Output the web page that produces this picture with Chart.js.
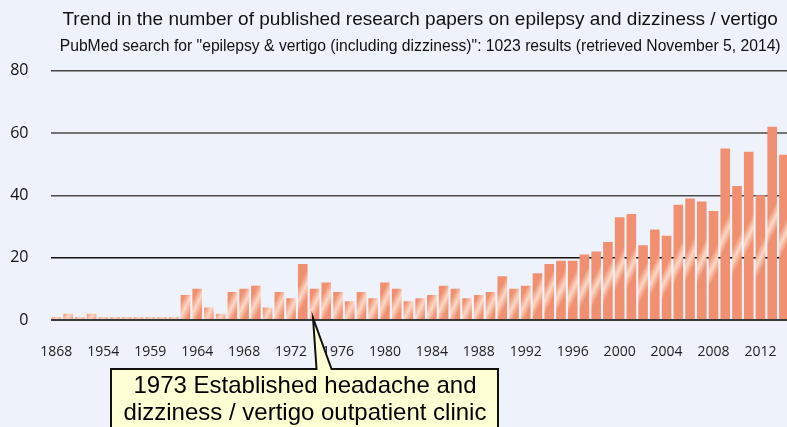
<!DOCTYPE html>
<html lang="en">
<head>
<meta charset="UTF-8">
<title>Epilepsy and dizziness / vertigo papers</title>
<script src="https://cdn.jsdelivr.net/npm/chart.js@4.4.1/dist/chart.umd.min.js"></script>
<style>
  html, body { margin: 0; padding: 0; background: #eef2fa; overflow: hidden; }
  /* a bit wider than the window: the last bar is cut off like in the source */
  .chart-wrap { position: relative; width: 800px; height: 427px; }
</style>
</head>
<body>
<div class="chart-wrap"><canvas id="papers-chart"></canvas></div>
<script>
// ---- Data ----
// only every 4th year is labelled; the unlabelled early years are unknown
const years = [
  '1868', '', '', '', '1954', '', '', '', '1959', '', '', '',
  '1964', '1965', '1966', '1967', '1968', '1969', '1970', '1971', '1972', '1973',
  '1974', '1975', '1976', '1977', '1978', '1979', '1980', '1981', '1982', '1983',
  '1984', '1985', '1986', '1987', '1988', '1989', '1990', '1991', '1992', '1993',
  '1994', '1995', '1996', '1997', '1998', '1999', '2000', '2001', '2002', '2003',
  '2004', '2005', '2006', '2007', '2008', '2009', '2010', '2011', '2012', '2013', '2014'
];
const paperCounts = [
  1, 2, 1, 2, 1, 1, 1, 1, 1, 1, 1, 8,
  10, 4, 2, 9, 10, 11, 4, 9, 7, 18,
  10, 12, 9, 6, 9, 7, 12, 10, 6, 7,
  8, 11, 10, 7, 8, 9, 14, 10, 11, 15,
  18, 19, 19, 21, 22, 25, 33, 34, 24, 29,
  27, 37, 39, 38, 35, 55, 43, 54, 40, 62, 53
];
const yTicks = [0, 20, 40, 60, 80];
const tickEvery = 4;

const titleText = 'Trend in the number of published research papers on epilepsy and dizziness / vertigo';
const subtitleText = 'PubMed search for "epilepsy & vertigo (including dizziness)": 1023 results (retrieved November 5, 2014)';
const noteIndex = 22;
const noteLines = ['1973 Established headache and', 'dizziness / vertigo outpatient clinic'];

// ---- Styles ----
const barBase = '#f09070';
const barGloss = '#fcd8c6';
const gridStyle = {
  0:  { color: '#3a3a3a', width: 2 },
  20: { color: '#111111', width: 1.5 },
  40: { color: '#4a4a4a', width: 1.5 },
  60: { color: '#747474', width: 2 },
  80: { color: '#444444', width: 1.5 }
};

Chart.defaults.font.family = '"Open Sans", sans-serif';

// soft diagonal streak across the middle of every bar
function barFill(c) {
  const { x, y } = c.chart.scales;
  if (!x || !y || c.type !== 'data') return barBase;
  const cx = x.getPixelForValue(c.dataIndex);
  const cy = (y.getPixelForValue(c.raw) + y.getPixelForValue(0)) / 2;
  if (!isFinite(cx) || !isFinite(cy)) return barBase;
  const g = c.chart.ctx.createLinearGradient(cx - 11, cy - 5.5, cx + 11, cy + 5.5);
  g.addColorStop(0, barBase);
  g.addColorStop(0.25, barBase);
  g.addColorStop(0.5, barGloss);
  g.addColorStop(0.75, barBase);
  g.addColorStop(1, barBase);
  return g;
}

// ---- Callout box under the axis ----
const calloutPlugin = {
  id: 'callout',
  afterDraw(chart) {
    const { ctx, scales: { x, y } } = chart;
    const tipX = x.getPixelForValue(noteIndex) - 1.5;
    const tipY = y.getPixelForValue(0) - 2;
    const box = { left: 111, top: 369, right: 498, bottom: 445 };
    ctx.save();
    ctx.beginPath();
    ctx.moveTo(box.left, box.top);
    ctx.lineTo(tipX + 3.5, box.top);
    ctx.lineTo(tipX, tipY);
    ctx.lineTo(tipX + 18.5, box.top);
    ctx.lineTo(box.right, box.top);
    ctx.lineTo(box.right, box.bottom);
    ctx.lineTo(box.left, box.bottom);
    ctx.closePath();
    ctx.fillStyle = '#ffffd4';
    ctx.fill();
    ctx.lineWidth = 2;
    ctx.strokeStyle = '#111';
    ctx.stroke();
    ctx.fillStyle = '#000';
    ctx.font = '24px "Liberation Sans", Arial, sans-serif';
    ctx.textAlign = 'center';
    ctx.textBaseline = 'alphabetic';
    noteLines.forEach((line, i) => ctx.fillText(line, 305, 393 + i * 27));
    ctx.restore();
  }
};

// ---- Chart ----
new Chart(document.getElementById('papers-chart'), {
  type: 'bar',
  data: {
    labels: years,
    datasets: [{
      label: 'Papers',
      data: paperCounts,
      backgroundColor: barFill,
      borderWidth: 0,
      barPercentage: 0.82,
      categoryPercentage: 1
    }]
  },
  options: {
    responsive: true,
    maintainAspectRatio: false,
    animation: false,
    layout: { padding: { left: 0, right: 9, top: 0, bottom: 0 } },
    scales: {
      x: {
        grid: { display: false },
        border: { display: false },
        afterFit: (axis) => { axis.height = 107; },
        ticks: {
          autoSkip: false,
          maxRotation: 0,
          padding: 16,
          color: '#222',
          font: { size: 14 },
          callback(value, index) {
            return index % tickEvery === 0 ? this.getLabelForValue(value) : '';
          }
        }
      },
      y: {
        min: yTicks[0],
        max: yTicks[yTicks.length - 1],
        border: { display: false },
        afterFit: (axis) => { axis.width = 50.5; },
        afterBuildTicks: (axis) => { axis.ticks = yTicks.map(v => ({ value: v })); },
        grid: {
          drawTicks: false,
          color: (c) => (gridStyle[c.tick.value] || {}).color || '#555',
          lineWidth: (c) => (gridStyle[c.tick.value] || {}).width || 1.5
        },
        ticks: {
          padding: 22,
          color: '#111',
          font: { size: 16 }
        }
      }
    },
    plugins: {
      legend: { display: false },
      tooltip: { enabled: false },
      title: {
        display: true,
        text: titleText,
        fullSize: false,
        color: '#111',
        font: { family: '"Liberation Sans", Arial, sans-serif', size: 19, weight: 'normal' },
        padding: { top: 8, bottom: 6 }
      },
      subtitle: {
        display: true,
        text: subtitleText,
        fullSize: false,
        color: '#111',
        font: { family: '"Liberation Sans", Arial, sans-serif', size: 15.7, weight: 'normal' },
        padding: { top: 0, bottom: 15 }
      }
    }
  },
  plugins: [calloutPlugin]
});
</script>
</body>
</html>
